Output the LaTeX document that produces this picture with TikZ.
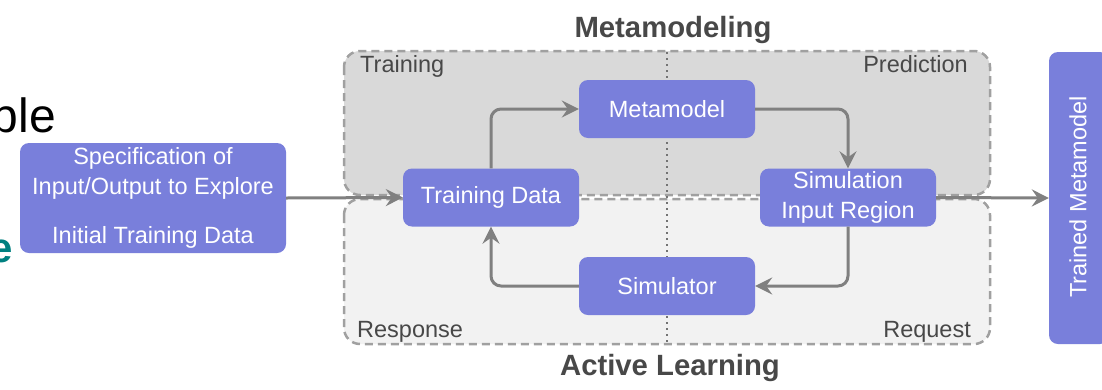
\documentclass[tikz,border=0pt]{standalone}
\usepackage{fontspec}
\setmainfont{Liberation Sans}
\usetikzlibrary{arrows.meta}
\definecolor{nodeblue}{RGB}{121,127,219}
\definecolor{regtop}{RGB}{217,217,217}
\definecolor{regbot}{RGB}{242,242,242}
\definecolor{dashgray}{RGB}{160,160,160}
\definecolor{arrgray}{RGB}{128,128,128}
\definecolor{labgray}{RGB}{72,72,72}
\definecolor{tealtxt}{RGB}{0,128,128}
\tikzset{
  box/.style={fill=nodeblue, draw=none, rounded corners=9pt, text=white, align=center,
    font=\fontsize{23.5}{30}\selectfont, inner sep=0pt, minimum width=176pt, minimum height=58pt},
  region/.style={draw=dashgray, line width=2.5pt, dash pattern=on 8pt off 5pt, rounded corners=16pt},
  flow/.style={draw=arrgray, line width=3pt, rounded corners=10pt,
    -{Stealth[length=17pt,width=17pt,inset=6pt]}},
  corner/.style={font=\fontsize{23.5}{28}\selectfont, text=labgray, inner sep=0pt},
  title/.style={font=\bfseries\fontsize{29.3}{35}\selectfont, text=labgray, inner sep=0pt},
}
\begin{document}
\begin{tikzpicture}[x=1pt,y=-1pt]
\useasboundingbox (0,0) rectangle (1102,389);
\clip (0,0) rectangle (1102,389);
% partial slide text
\node[anchor=base east, inner sep=0pt, font=\fontsize{48}{56}\selectfont] (ble) at (56,132) {ble};
\node[anchor=base east, inner sep=0pt, font=\bfseries\fontsize{42}{50}\selectfont, text=tealtxt] (tle) at (13,262) {e};
% regions
\filldraw[region, fill=regtop] (344,51) rectangle (990,195);
\filldraw[region, fill=regbot] (344,199) rectangle (990,344);
\draw[draw=arrgray!90!black, line width=2pt, dash pattern=on 2pt off 4pt] (667,52) -- (667,344);
% region labels
\node[corner, anchor=base west] (ltrain) at (360,72) {Training};
\node[corner, anchor=base east] (lpred) at (968,72) {Prediction};
\node[corner, anchor=base west] (lresp) at (357,337) {Response};
\node[corner, anchor=base east] (lreq) at (971,337) {Request};
\node[title, anchor=base] (tmeta) at (673,37) {Metamodeling};
\node[title, anchor=base] (tact) at (670,375) {Active Learning};
% nodes
\node[box, minimum width=266pt, minimum height=110pt] (spec) at (153,198)
  {Specification of\\Input/Output to Explore\\[19pt]Initial Training Data};
\node[box] (td) at (491,197.5) {Training Data};
\node[box] (mm) at (667,109) {Metamodel};
\node[box] (sim) at (667,286) {Simulator};
\node[box] (sir) at (848,197.5) {Simulation\\Input Region};
\node[box, minimum width=60pt, minimum height=292pt] (tm) at (1079,198) {};
\node[rotate=90, text=white, font=\fontsize{23.5}{30}\selectfont, inner sep=0pt] (tmt) at (1078,197) {Trained Metamodel};
% connectors
\draw[flow] (spec.east) -- (td.west);
\draw[flow] (td.north) |- (mm.west);
\draw[flow] (mm.east) -| (sir.north);
\draw[flow] (sir.south) |- (sim.east);
\draw[flow] (sim.west) -| (td.south);
\draw[flow] (sir.east) -- (tm.west);
\end{tikzpicture}
\end{document}
